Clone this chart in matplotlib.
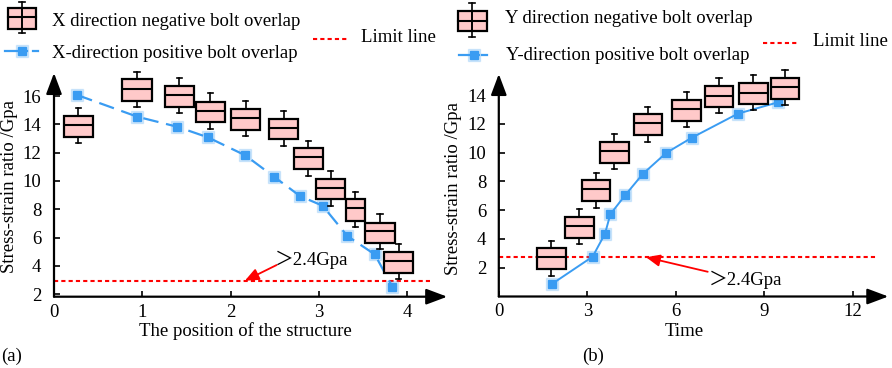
import matplotlib.pyplot as plt
from matplotlib.patches import Rectangle
from matplotlib.lines import Line2D

plt.rcParams['font.family'] = ['Liberation Serif', 'Noto Sans CJK SC']

W, H = 892, 368
FS = 13.5
BLUE = '#3a9cf2'
PINK = '#ffc9c9'

# (a) X direction
a_pos = [0.275, 0.94, 1.42, 1.77, 2.17, 2.60, 2.88, 3.13, 3.41, 3.69, 3.90]
a_med = [13.95, 16.49, 16.09, 14.96, 14.42, 13.74, 11.67, 9.52, 8.06, 6.46, 4.34]
a_q1 = [13.12, 15.67, 15.24, 14.14, 13.60, 12.96, 10.82, 8.70, 7.19, 5.59, 3.51]
a_q3 = [14.59, 17.18, 16.73, 15.60, 15.06, 14.40, 12.30, 10.13, 8.70, 7.05, 5.00]
a_lo = [12.66, 15.24, 14.82, 13.67, 13.17, 12.47, 10.37, 8.23, 6.76, 5.17, 3.07]
a_hi = [15.13, 17.72, 17.29, 16.19, 15.63, 14.94, 12.84, 10.72, 9.24, 7.64, 5.54]
a_line_x = [0.264, 0.943, 1.395, 1.743, 2.165, 2.49, 2.785, 3.04, 3.32, 3.63, 3.83]
a_line_y = [16.07, 14.54, 13.83, 13.08, 11.81, 10.30, 8.93, 8.25, 6.11, 4.81, 2.52]
a_limit = 2.95

# (b) Y direction
b_pos = [1.78, 2.73, 3.30, 3.92, 5.05, 6.37, 7.46, 8.63, 9.70]
b_med = [2.73, 4.90, 7.45, 10.12, 12.04, 13.02, 13.96, 14.17, 14.55]
b_q1 = [1.89, 4.09, 6.62, 9.28, 11.21, 12.23, 13.16, 13.39, 13.73]
b_q3 = [3.35, 5.53, 8.10, 10.74, 12.69, 13.66, 14.62, 14.83, 15.22]
b_lo = [1.45, 3.65, 6.18, 8.85, 10.77, 11.77, 12.74, 12.95, 13.32]
b_hi = [3.88, 6.06, 8.61, 11.28, 13.20, 14.20, 15.17, 15.40, 15.75]
b_line_x = [1.80, 3.18, 3.60, 3.78, 4.29, 4.88, 5.67, 6.54, 8.10, 9.46]
b_line_y = [0.87, 2.77, 4.37, 5.72, 7.06, 8.52, 9.98, 11.04, 12.71, 13.50]
b_limit = 2.73

ylabel = 'Stress-strain ratio /Gpa'


def fx(px):
    return px / W


def fy(py):
    return 1 - py / H


def setup(ax, xlim, ylim, xticks, yticks):
    ax.set_xlim(*xlim)
    ax.set_ylim(*ylim)
    for s in ax.spines.values():
        s.set_visible(False)
    ax.set_xticks(xticks)
    ax.set_yticks(yticks)
    ax.tick_params(direction='in', length=4, width=1.2, labelsize=FS)
    ax.tick_params(axis='y', pad=9)
    ax.tick_params(axis='x', pad=5)
    ax.patch.set_alpha(0)
    arrow = dict(arrowstyle='-|>,head_length=0.8,head_width=0.3', color='black',
                 lw=1.6, mutation_scale=16, shrinkA=0, shrinkB=0)
    ax.annotate('', xy=(1, 0), xytext=(0, 0), xycoords='axes fraction',
                arrowprops=arrow, annotation_clip=False)
    ax.annotate('', xy=(0, 1), xytext=(0, 0), xycoords='axes fraction',
                arrowprops=arrow, annotation_clip=False)


def boxes(ax, pos, med, q1, q3, lo, hi, widths, capw):
    stats = [dict(med=m, q1=a, q3=b, whislo=l, whishi=h)
             for m, a, b, l, h in zip(med, q1, q3, lo, hi)]
    art = ax.bxp(stats, positions=pos, widths=widths, capwidths=capw,
                 patch_artist=True, showfliers=False, manage_ticks=False,
                 boxprops=dict(facecolor=PINK, edgecolor='black', linewidth=1.6),
                 medianprops=dict(color='black', linewidth=1.5),
                 whiskerprops=dict(color='black', linewidth=1.2),
                 capprops=dict(color='black', linewidth=1.2))
    for k in art:
        for a in art[k]:
            a.set_zorder(4)
            a.set_clip_on(False)


def red_arrow(ax, head, tail):
    ax.annotate('', xy=head, xytext=tail,
                arrowprops=dict(arrowstyle='-|>,head_length=0.7,head_width=0.3',
                                color='red', lw=1.3, mutation_scale=12,
                                shrinkA=0, shrinkB=0))


fig = plt.figure(figsize=(W / 100, H / 100), dpi=100)

axA = fig.add_axes([fx(54), fy(296.7), (447.2 - 54) / W, (296.7 - 73) / H])
setup(axA, (0, 4.45), (1.82, 17.63), [0, 1, 2, 3, 4], list(range(2, 17, 2)))
wa = [0.33] * len(a_pos)
wa[8] = 0.21
boxes(axA, a_pos, a_med, a_q1, a_q3, a_lo, a_hi, wa, 0.06)
axA.plot(a_line_x, a_line_y, ls='none', marker='s', ms=9, color=BLUE,
         alpha=0.2, zorder=3, clip_on=False)
axA.plot(a_line_x, a_line_y, color=BLUE, lw=1.6, dashes=(7, 3.5),
         marker='s', ms=6, zorder=3, clip_on=False)
axA.axhline(a_limit, xmin=0, xmax=4.26 / 4.45, color='red', lw=1.5,
            dashes=(2, 1.5), zorder=2)
red_arrow(axA, (2.16, a_limit), (2.52, 4.06))
axA.text(2.50, 4.41, '＞2.4Gpa', fontsize=FS, ha='left', va='center')

axB = fig.add_axes([fx(498.8), fy(296.5), (888.3 - 498.8) / W, (296.5 - 74) / H])
setup(axB, (0, 13.2), (0, 15.47), [0, 3, 6, 9, 12], list(range(2, 15, 2)))
boxes(axB, b_pos, b_med, b_q1, b_q3, b_lo, b_hi, 0.97, 0.18)
axB.plot(b_line_x, b_line_y, ls='none', marker='s', ms=9, color=BLUE,
         alpha=0.2, zorder=3, clip_on=False)
axB.plot(b_line_x, b_line_y, color=BLUE, lw=1.4, marker='s', ms=6,
         zorder=3, clip_on=False)
axB.axhline(b_limit, xmin=0, xmax=12.8 / 13.2, color='red', lw=1.5,
            dashes=(2, 1.5), zorder=2)
red_arrow(axB, (4.99, b_limit), (7.08, 1.72))
axB.text(7.12, 1.15, '＞2.4Gpa', fontsize=FS, ha='left', va='center')

# axis titles and panel labels
fig.text(fx(245), fy(331), 'The position of the structure', fontsize=FS,
         ha='center', va='center')
fig.text(fx(684), fy(331), 'Time', fontsize=FS, ha='center', va='center')
fig.text(fx(10), fy(186.5), ylabel, fontsize=FS, rotation=90,
         ha='center', va='center')
fig.text(fx(454), fy(188.5), ylabel, fontsize=FS, rotation=90,
         ha='center', va='center')
fig.text(fx(12), fy(356.7), '(a)', fontsize=FS, ha='center', va='center')
fig.text(fx(592.7), fy(356.7), '(b)', fontsize=FS, ha='center', va='center')


# legends drawn by hand
def legend_box(x0, x1, ytop, ybot, ymed, ycap_t, ycap_b):
    xc = (x0 + x1) / 2
    fig.add_artist(Line2D([fx(xc)] * 2, [fy(ycap_t), fy(ybot)], color='black',
                          lw=1.2, transform=fig.transFigure))
    fig.add_artist(Line2D([fx(xc)] * 2, [fy(ytop), fy(ycap_b)], color='black',
                          lw=1.2, transform=fig.transFigure))
    for yc in (ycap_t, ycap_b):
        fig.add_artist(Line2D([fx(xc - 3), fx(xc + 3)], [fy(yc)] * 2,
                              color='black', lw=1.2, transform=fig.transFigure))
    fig.add_artist(Rectangle((fx(x0), fy(ybot)), (x1 - x0) / W, (ybot - ytop) / H,
                             facecolor=PINK, edgecolor='black', lw=1.6,
                             transform=fig.transFigure))
    fig.add_artist(Line2D([fx(x0), fx(x1)], [fy(ymed)] * 2, color='black',
                          lw=1.5, transform=fig.transFigure))


def legend_line(x0, xm, x1, y):
    fig.add_artist(Line2D([fx(x0), fx(xm + 5)], [fy(y)] * 2, color=BLUE,
                          lw=1.6, transform=fig.transFigure))
    fig.add_artist(Line2D([fx(x1 - 5), fx(x1)], [fy(y)] * 2, color=BLUE,
                          lw=1.6, transform=fig.transFigure))
    fig.add_artist(Line2D([fx(xm)], [fy(y)], color=BLUE, marker='s', ms=9,
                          alpha=0.2, transform=fig.transFigure))
    fig.add_artist(Line2D([fx(xm)], [fy(y)], color=BLUE, marker='s', ms=6,
                          transform=fig.transFigure))


def legend_limit(x0, x1, y):
    fig.add_artist(Line2D([fx(x0), fx(x1)], [fy(y)] * 2, color='red', lw=1.5,
                          dashes=(2, 1.5), transform=fig.transFigure))


legend_box(8.3, 36, 7.7, 29, 17, 1.5, 33.3)
fig.text(fx(52), fy(21.7), 'X direction negative bolt overlap', fontsize=FS,
         va='center')
legend_line(5, 21.7, 38, 50.7)
fig.text(fx(52), fy(53.3), 'X-direction positive bolt overlap', fontsize=FS,
         va='center')
legend_limit(313, 348, 39.3)
fig.text(fx(360.7), fy(37.3), 'Limit line', fontsize=FS, va='center')

legend_box(457.7, 486.7, 11, 30.7, 20.7, 3.3, 37.3)
fig.text(fx(505), fy(18.3), 'Y direction negative bolt overlap', fontsize=FS,
         va='center')
legend_line(459, 474, 487, 55)
fig.text(fx(506), fy(55), 'Y-direction positive bolt overlap', fontsize=FS,
         va='center')
legend_limit(762.7, 798.7, 42.7)
fig.text(fx(812.7), fy(41.7), 'Limit line', fontsize=FS, va='center')

fig.savefig('out.png', dpi=100)
